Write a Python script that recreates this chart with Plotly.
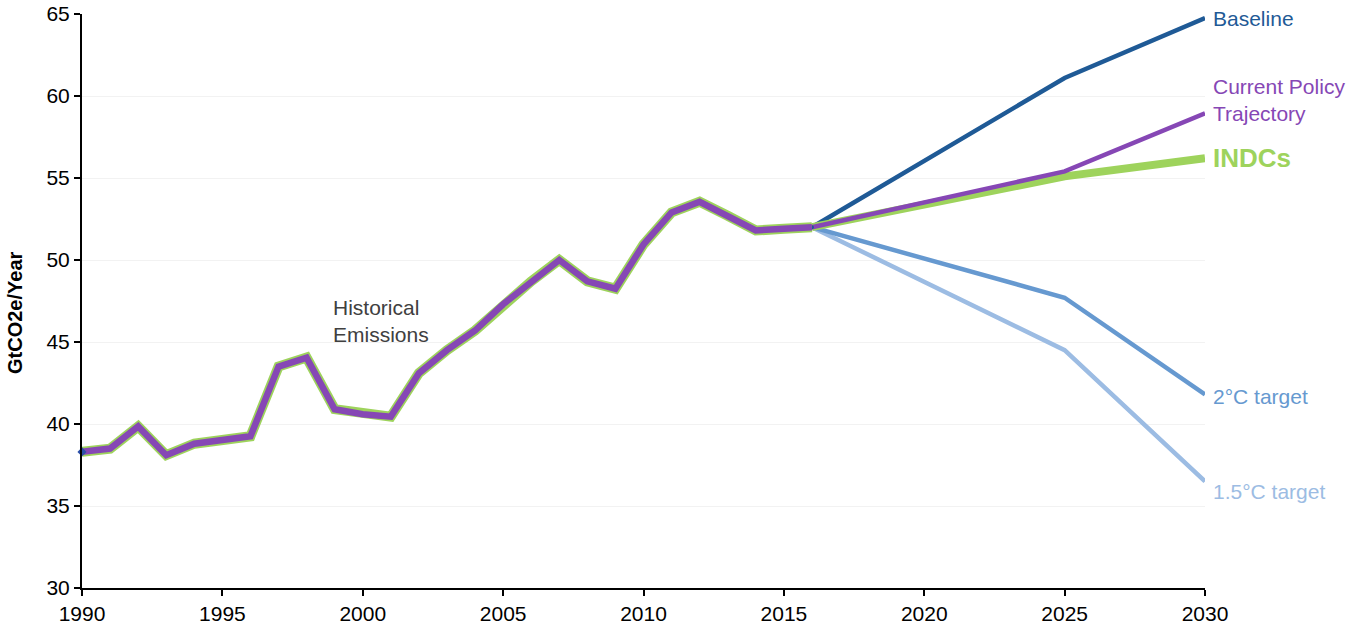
import plotly.graph_objects as go

hist_years = list(range(1990, 2017))
hist_values = [38.3, 38.5, 39.85, 38.1, 38.8, 39.05, 39.25, 43.5, 44.05, 40.9, 40.6, 40.45,
               43.1, 44.5, 45.7, 47.3, 48.7, 50.0, 48.7, 48.25, 50.95, 52.9, 53.55, 52.7,
               51.8, 51.9, 52.0]

proj_years = [2016, 2025, 2030]
baseline = [52.0, 61.1, 64.75]
current_policy = [52.0, 55.4, 58.95]
indcs = [52.0, 55.1, 56.2]
target_2c = [52.0, 47.7, 41.8]
target_15c = [52.0, 44.5, 36.5]

labels = ["Baseline", "Current Policy<br>Trajectory", "INDCs", "2°C target", "1.5°C target"]
label_y = [64.7, 59.75, 56.2, 41.7, 35.9]

C_BASE = "#1F5A96"
C_CPT = "#8647B5"
C_INDC = "#9ED35C"
C_2C = "#6699D0"
C_15C = "#9CBCE3"

FONT = "Liberation Sans, Arial, sans-serif"

W, H = 1352, 625
L, R, T, B = 82, 147, 14, 37

fig = go.Figure()

# Projections
fig.add_trace(go.Scatter(x=proj_years, y=target_15c, mode="lines",
                         line=dict(color=C_15C, width=4.5), hoverinfo="skip"))
fig.add_trace(go.Scatter(x=proj_years, y=target_2c, mode="lines",
                         line=dict(color=C_2C, width=4.5), hoverinfo="skip"))
fig.add_trace(go.Scatter(x=proj_years, y=baseline, mode="lines",
                         line=dict(color=C_BASE, width=4.5), hoverinfo="skip"))
fig.add_trace(go.Scatter(x=proj_years, y=indcs, mode="lines",
                         line=dict(color=C_INDC, width=8), hoverinfo="skip"))
fig.add_trace(go.Scatter(x=proj_years, y=current_policy, mode="lines",
                         line=dict(color=C_CPT, width=4.5), hoverinfo="skip"))

# Historical
fig.add_trace(go.Scatter(x=hist_years, y=hist_values, mode="lines+markers",
                         line=dict(color=C_BASE, width=3),
                         marker=dict(color=C_BASE, size=4), hoverinfo="skip"))
fig.add_trace(go.Scatter(x=hist_years, y=hist_values, mode="lines",
                         line=dict(color=C_INDC, width=10), hoverinfo="skip"))
fig.add_trace(go.Scatter(x=hist_years, y=hist_values, mode="lines",
                         line=dict(color=C_CPT, width=6.5), hoverinfo="skip"))
fig.add_trace(go.Scatter(x=hist_years[:1], y=hist_values[:1], mode="markers",
                         marker=dict(color="#2B4FA8", size=7, symbol="diamond"),
                         hoverinfo="skip", cliponaxis=False))

label_colors = [C_BASE, C_CPT, C_INDC, C_2C, C_15C]
annotations = []
for txt, yv, col in zip(labels, label_y, label_colors):
    is_indc = txt == "INDCs"
    annotations.append(dict(
        x=2030, y=yv, xref="x", yref="y", text=("<b>%s</b>" % txt) if is_indc else txt,
        showarrow=False, xanchor="left", yanchor="middle", xshift=6, align="left",
        font=dict(family=FONT, size=26 if is_indc else 21, color=col)))

annotations.append(dict(
    x=1998.87, y=46.3, xref="x", yref="y", text="Historical<br>Emissions",
    showarrow=False, xanchor="left", yanchor="middle", align="left",
    font=dict(family=FONT, size=21, color="#404040")))

annotations.append(dict(
    x=(15 - L) / (W - L - R), y=(H - B - 313) / (H - T - B), xref="paper", yref="paper",
    text="<b>GtCO2e/Year</b>",
    showarrow=False, textangle=-90, xanchor="center", yanchor="middle",
    font=dict(family=FONT, size=20, color="black")))

fig.update_layout(
    template="none",
    width=W, height=H,
    margin=dict(l=L, r=R, t=T, b=B, pad=0, autoexpand=False),
    paper_bgcolor="white", plot_bgcolor="white",
    showlegend=False,
    hovermode=False,
    font=dict(family=FONT, size=21, color="black"),
    annotations=annotations,
    xaxis=dict(range=[1990, 2030], tickmode="array", tickvals=list(range(1990, 2031, 5)),
               automargin=False, ticklabeloverflow="allow",
               showgrid=False, zeroline=False, showline=True, linecolor="black", linewidth=2,
               ticks="outside", ticklen=6, tickwidth=2, tickcolor="black",
               tickfont=dict(family=FONT, size=21, color="black")),
    yaxis=dict(range=[30, 65], tickmode="array", tickvals=list(range(30, 66, 5)),
               automargin=False, ticklabeloverflow="allow",
               showgrid=True, gridcolor="#F2F2F2", gridwidth=1, zeroline=False,
               showline=True, linecolor="black", linewidth=2,
               ticks="outside", ticklen=6, tickwidth=2, tickcolor="black",
               tickfont=dict(family=FONT, size=21, color="black")),
)

fig.write_html("out.html", config={"displayModeBar": False},
               post_script="document.body.style.margin='0';")
